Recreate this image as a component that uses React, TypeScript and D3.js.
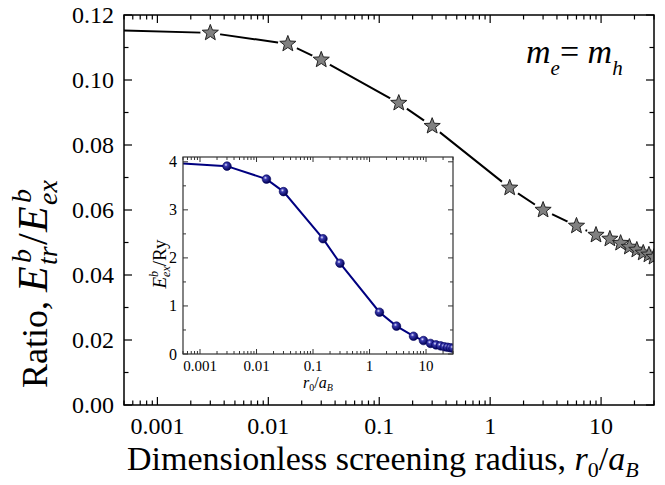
import React from "react";
import * as d3 from "d3";

// screening radius r0/aB (first point sits left of the visible range)
const radius = [0.0003, 0.003, 0.015, 0.03, 0.15, 0.3, 1.5, 3, 6, 9, 12, 15, 18, 21, 24, 27, 30];
// trion / exciton binding energy ratio
const ratio = [0.1154, 0.1145, 0.1111, 0.1062, 0.0929, 0.0858, 0.0668, 0.06, 0.0551, 0.0523, 0.0511, 0.0498, 0.0486, 0.0477, 0.0468, 0.0462, 0.0455];
// exciton binding energy in Ry (inset)
const excitonE = [3.98, 3.91, 3.64, 3.38, 2.4, 1.89, 0.87, 0.58, 0.37, 0.28, 0.22, 0.19, 0.17, 0.15, 0.14, 0.13, 0.12];

const xTickLabels = ["0.001", "0.01", "0.1", "1", "10"];
const yTicksMain = [0, 0.02, 0.04, 0.06, 0.08, 0.1, 0.12];
const yTicksInset = [0, 1, 2, 3, 4];

const W = 665, H = 485;
const serif = "Liberation Serif";

function logTicks(domain: [number, number]) {
  const out: { v: number; major: boolean }[] = [];
  for (let e = -4; e <= 1; e++) {
    for (let k = 1; k <= 9; k++) {
      const v = k * Math.pow(10, e);
      if (v >= domain[0] * 0.999 && v <= domain[1] * 1.001) out.push({ v, major: k === 1 });
    }
  }
  return out;
}

function starPath(cx: number, cy: number, R: number, r: number) {
  const pts: string[] = [];
  for (let i = 0; i < 10; i++) {
    const a = -Math.PI / 2 + (i * Math.PI) / 5;
    const rr = i % 2 === 0 ? R : r;
    pts.push(`${cx + rr * Math.cos(a)},${cy + rr * Math.sin(a)}`);
  }
  return "M" + pts.join("L") + "Z";
}

export default function App() {
  const domX: [number, number] = [0.0005, 30];

  // main plot
  const m = { left: 124, right: 654, top: 15, bottom: 405 };
  const x = d3.scaleLog().domain(domX).range([m.left, m.right]);
  const y = d3.scaleLinear().domain([0, 0.12]).range([m.bottom, m.top]);
  const pts = radius.map((r, i) => [x(r), y(ratio[i])] as [number, number]);
  const line = d3.line()(pts) || "";
  const visible = pts.filter((_, i) => radius[i] >= domX[0]);

  // inset
  const n = { left: 183, right: 453, top: 157, bottom: 354 };
  const xi = d3.scaleLog().domain(domX).range([n.left, n.right]);
  const yi = d3.scaleLinear().domain([0, 4.1]).range([n.bottom, n.top]);
  const ipts = radius.map((r, i) => [xi(r), yi(excitonE[i])] as [number, number]);
  const iline = d3.line()(ipts) || "";
  const ivisible = ipts.filter((_, i) => radius[i] >= domX[0]);

  const xt = logTicks(domX);
  const majors = xt.filter((t) => t.major);

  const yMinorMain = d3.range(0.01, 0.12, 0.02);
  const yMinorInset = d3.range(0.5, 4.1, 1);

  const txt = { fontFamily: serif };

  return (
    <svg width={W} height={H} style={{ position: "absolute", left: 0, top: 0, background: "#fff", fontFamily: serif }}>
      <defs>
        <clipPath id="clipMain">
          <rect x={m.left} y={m.top} width={m.right - m.left} height={m.bottom - m.top} />
        </clipPath>
        <clipPath id="clipInset">
          <rect x={n.left} y={n.top - 6} width={n.right - n.left} height={n.bottom - n.top + 6} />
        </clipPath>
        <radialGradient id="ball" cx="38%" cy="35%" r="65%">
          <stop offset="0%" stopColor="#e8e8ff" />
          <stop offset="30%" stopColor="#3a3ab0" />
          <stop offset="100%" stopColor="#000050" />
        </radialGradient>
      </defs>

      {/* main curve */}
      <g clipPath="url(#clipMain)">
        <path d={line} fill="none" stroke="#000" strokeWidth={2} />
        {visible.map((p, i) => (
          <circle key={"g" + i} cx={p[0]} cy={p[1]} r={10} fill="#fff" />
        ))}
        {visible.map((p, i) => (
          <path key={"s" + i} d={starPath(p[0], p[1], 8.5, 3.6)} fill="#808080" stroke="#222" strokeWidth={1} />
        ))}
      </g>

      {/* main frame and ticks */}
      <rect x={m.left} y={m.top} width={m.right - m.left} height={m.bottom - m.top} fill="none" stroke="#000" strokeWidth={1.5} />
      {xt.map((t, i) => {
        const len = t.major ? 8 : 4.5;
        return (
          <g key={"xt" + i} stroke="#000" strokeWidth={1.2}>
            <line x1={x(t.v)} x2={x(t.v)} y1={m.bottom} y2={m.bottom - len} />
            <line x1={x(t.v)} x2={x(t.v)} y1={m.top} y2={m.top + len} />
          </g>
        );
      })}
      {yTicksMain.map((v, i) => (
        <g key={"yt" + i} stroke="#000" strokeWidth={1.2}>
          <line x1={m.left} x2={m.left + 8} y1={y(v)} y2={y(v)} />
          <line x1={m.right} x2={m.right - 8} y1={y(v)} y2={y(v)} />
        </g>
      ))}
      {yMinorMain.map((v, i) => (
        <g key={"ym" + i} stroke="#000" strokeWidth={1.2}>
          <line x1={m.left} x2={m.left + 4.5} y1={y(v)} y2={y(v)} />
          <line x1={m.right} x2={m.right - 4.5} y1={y(v)} y2={y(v)} />
        </g>
      ))}
      {majors.map((t, i) => (
        <text key={"xl" + i} style={txt} x={x(t.v)} y={434} fontSize={24} textAnchor="middle">
          {xTickLabels[i]}
        </text>
      ))}
      {yTicksMain.map((v, i) => (
        <text key={"yl" + i} style={txt} x={114} y={y(v) + 8} fontSize={24} textAnchor="end">
          {v.toFixed(2)}
        </text>
      ))}

      {/* axis titles */}
      <text style={txt} x={127} y={470} fontSize={34}>
        Dimensionless screening radius, <tspan fontStyle="italic">r</tspan>
        <tspan fontSize={22} dy={7}>0</tspan>
        <tspan dy={-7}>/</tspan>
        <tspan fontStyle="italic">a</tspan>
        <tspan fontSize={22} fontStyle="italic" dy={7}>B</tspan>
      </text>
      <text style={txt} transform="translate(47,0) rotate(-90)" fontSize={36}>
        <tspan x={-388}>Ratio,</tspan>
        <tspan x={-292} fontStyle="italic" fontSize={42}>E</tspan>
        <tspan x={-263} fontSize={28} fontStyle="italic" dy={-16}>b</tspan>
        <tspan x={-265} fontSize={28} fontStyle="italic" dy={26}>tr</tspan>
        <tspan x={-245} fontSize={42} dy={-10}>/</tspan>
        <tspan x={-232} fontStyle="italic" fontSize={42}>E</tspan>
        <tspan x={-203} fontSize={28} fontStyle="italic" dy={-16}>b</tspan>
        <tspan x={-205} fontSize={28} fontStyle="italic" dy={26}>ex</tspan>
      </text>

      {/* annotation */}
      <text style={txt} x={526} y={63} fontSize={34} fontStyle="italic">
        m<tspan fontSize={21} dy={12}>e</tspan>
        <tspan fontStyle="normal" dy={-12}>=</tspan>
        <tspan> m</tspan>
        <tspan fontSize={21} dy={12}>h</tspan>
      </text>

      {/* inset */}
      <rect x={n.left} y={n.top} width={n.right - n.left} height={n.bottom - n.top} fill="#fff" stroke="none" />
      <g clipPath="url(#clipInset)">
        <path d={iline} fill="none" stroke="#000080" strokeWidth={2} />
        {ivisible.map((p, i) => (
          <circle key={"b" + i} cx={p[0]} cy={p[1]} r={4.3} fill="url(#ball)" stroke="#000060" strokeWidth={0.6} />
        ))}
      </g>
      <rect x={n.left} y={n.top} width={n.right - n.left} height={n.bottom - n.top} fill="none" stroke="#333" strokeWidth={1.2} />
      {xt.map((t, i) => {
        const len = t.major ? 5 : 3;
        return (
          <g key={"ixt" + i} stroke="#333" strokeWidth={1}>
            <line x1={xi(t.v)} x2={xi(t.v)} y1={n.bottom} y2={n.bottom - len} />
            <line x1={xi(t.v)} x2={xi(t.v)} y1={n.top} y2={n.top + len} />
          </g>
        );
      })}
      {yTicksInset.map((v, i) => (
        <g key={"iyt" + i} stroke="#333" strokeWidth={1}>
          <line x1={n.left} x2={n.left + 5} y1={yi(v)} y2={yi(v)} />
          <line x1={n.right} x2={n.right - 5} y1={yi(v)} y2={yi(v)} />
        </g>
      ))}
      {yMinorInset.map((v, i) => (
        <g key={"iym" + i} stroke="#333" strokeWidth={1}>
          <line x1={n.left} x2={n.left + 3} y1={yi(v)} y2={yi(v)} />
          <line x1={n.right} x2={n.right - 3} y1={yi(v)} y2={yi(v)} />
        </g>
      ))}
      {majors.map((t, i) => (
        <text key={"ixl" + i} style={txt} x={xi(t.v)} y={371} fontSize={15} textAnchor="middle">
          {xTickLabels[i]}
        </text>
      ))}
      {yTicksInset.map((v, i) => (
        <text key={"iyl" + i} style={txt} x={177} y={yi(v) + 5.5} fontSize={16} textAnchor="end">
          {v}
        </text>
      ))}
      <text style={txt} x={n.left + (n.right - n.left) / 2} y={388} fontSize={16} textAnchor="middle">
        <tspan fontStyle="italic">r</tspan>
        <tspan fontSize={10} dy={3}>0</tspan>
        <tspan dy={-3}>/</tspan>
        <tspan fontStyle="italic">a</tspan>
        <tspan fontSize={10} fontStyle="italic" dy={3}>B</tspan>
      </text>
      <text style={txt} transform="translate(166,264) rotate(-90)" fontSize={19} textAnchor="middle">
        <tspan fontStyle="italic">E</tspan>
        <tspan fontSize={12} fontStyle="italic" dy={-8}>b</tspan>
        <tspan fontSize={12} fontStyle="italic" dx={-6} dy={12}>ex</tspan>
        <tspan dy={-4}>/Ry</tspan>
      </text>
    </svg>
  );
}
